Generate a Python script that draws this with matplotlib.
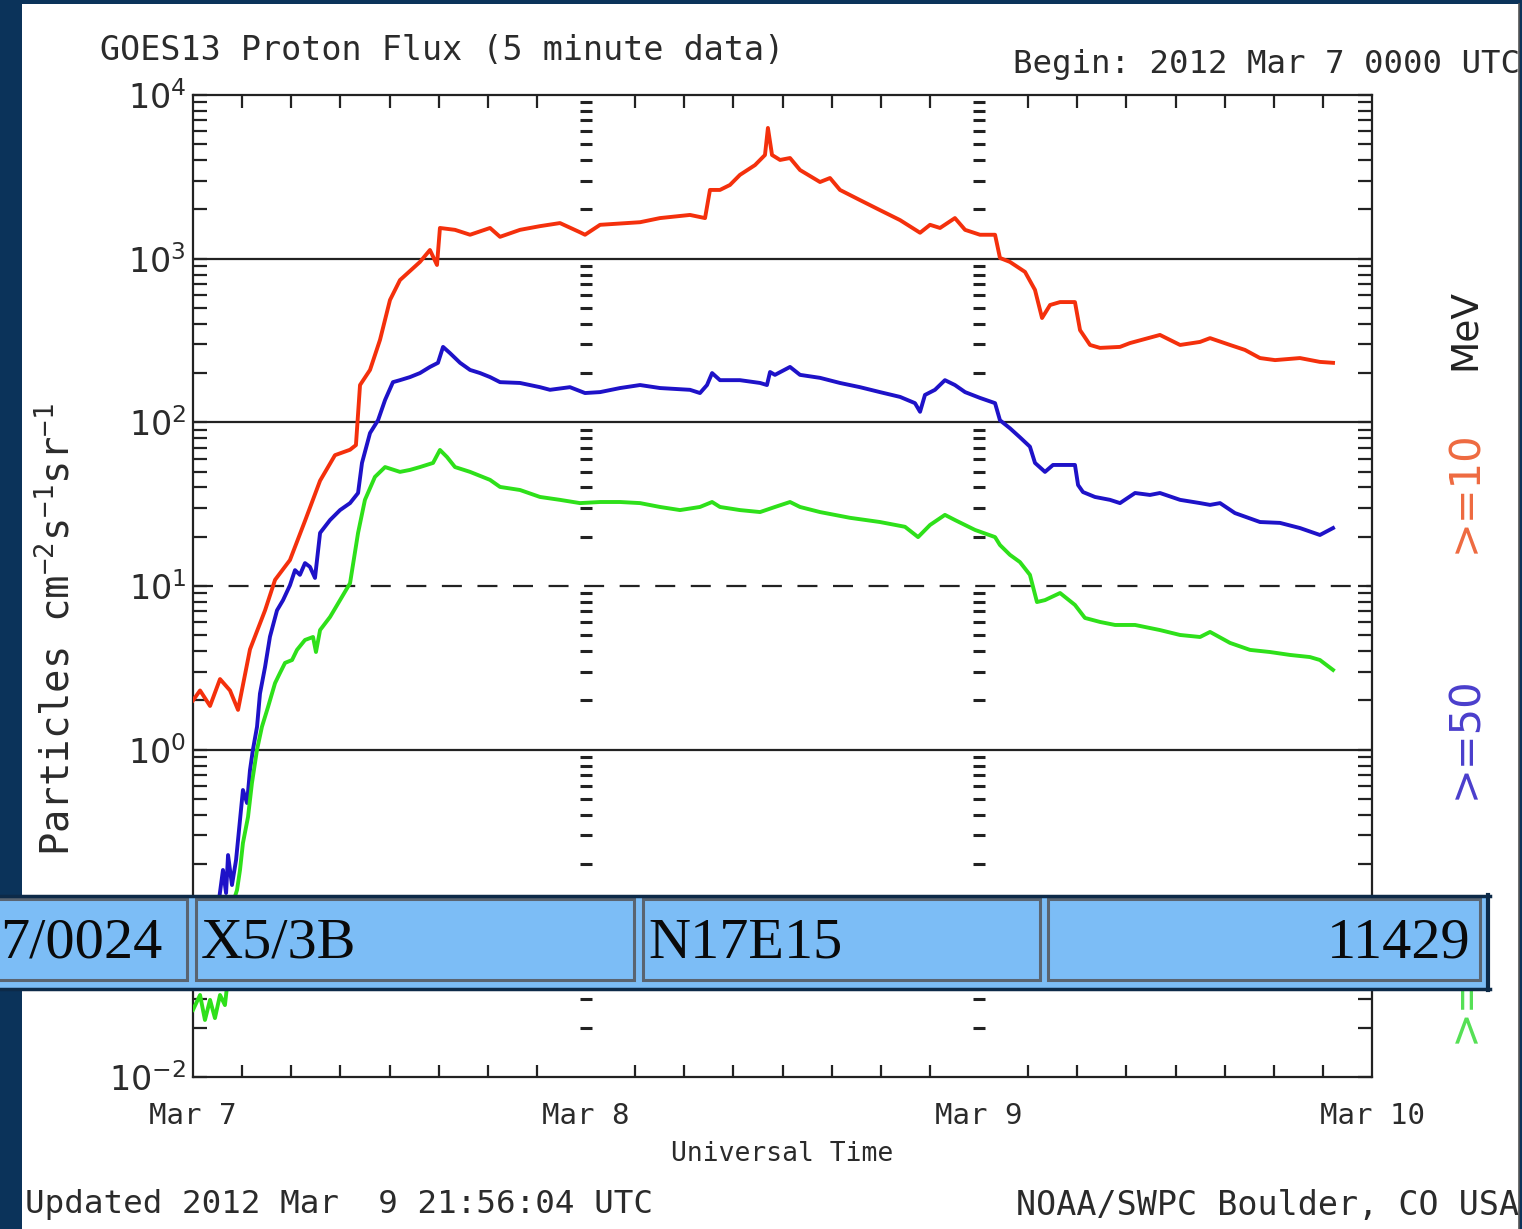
import numpy as np
import matplotlib
matplotlib.use("Agg")
import matplotlib.pyplot as plt
from matplotlib.patches import Rectangle
from matplotlib.ticker import FixedLocator, LogLocator, NullFormatter

# ---------------- data (hours since 2012 Mar 7 00:00 UTC, flux) ----------------
red_hours = [0.0, 0.43, 1.04, 1.65, 2.26, 2.75, 3.48, 4.40, 5.01, 5.92, 6.84, 7.76,
             8.67, 9.59, 9.95, 10.20, 10.81, 11.42, 12.03, 12.64, 13.86, 14.47, 14.90,
             15.08, 16.00, 16.92, 18.14, 18.75, 19.97, 21.19, 22.41, 23.63, 23.94,
             24.86, 27.30, 28.52, 30.35, 31.27, 31.57, 32.18, 32.79, 33.40, 34.32,
             34.93, 35.11, 35.36, 35.85, 36.46, 37.07, 38.29, 38.90, 39.51, 40.73,
             41.95, 43.18, 44.40, 45.01, 45.62, 46.53, 47.15, 48.06, 48.98, 49.28,
             49.89, 50.81, 51.42, 51.85, 52.34, 52.95, 53.86, 54.17, 54.78, 55.39,
             56.61, 57.22, 59.05, 60.28, 61.50, 62.11, 63.33, 64.24, 65.16, 66.08,
             67.60, 68.82, 69.62]
red_flux = [2.0, 2.3, 1.85, 2.7, 2.3, 1.75, 4.1, 7.1, 10.9, 14.4, 25, 44,
            63, 68, 72.6, 169, 209, 319, 559, 740, 955, 1130, 915,
            1540, 1500, 1400, 1540, 1360, 1500, 1580, 1650, 1450, 1400,
            1610, 1670, 1770, 1850, 1770, 2630, 2630, 2820, 3250, 3730,
            4300, 6290, 4300, 4010, 4120, 3480, 2940, 3110, 2630, 2280,
            1980, 1720, 1440, 1610, 1540, 1770, 1500, 1400, 1400, 1010,
            955, 830, 644, 434, 521, 543, 543, 366, 297, 285,
            289, 305, 342, 297, 310, 327, 297, 277, 247, 240,
            247, 234, 231]

blue_hours = [0.12, 1.34, 1.83, 2.02, 2.14, 2.38, 2.63, 2.87, 3.05, 3.30, 3.48, 3.66,
              3.91, 4.09, 4.40, 4.70, 5.13, 5.50, 5.92, 6.23, 6.53, 6.84, 7.14, 7.45,
              7.76, 8.37, 8.98, 9.59, 10.08, 10.32, 10.81, 11.30, 11.73, 12.21, 12.64,
              13.25, 13.86, 14.47, 14.96, 15.27, 15.69, 16.31, 16.92, 17.53, 18.14,
              18.75, 19.97, 21.19, 21.80, 23.02, 23.94, 24.86, 26.08, 27.30, 28.52,
              30.35, 30.96, 31.39, 31.70, 32.18, 33.40, 34.63, 35.05, 35.24, 35.54,
              36.46, 37.07, 38.29, 39.51, 40.73, 41.95, 43.18, 44.09, 44.40, 44.70,
              45.31, 45.92, 46.53, 47.15, 48.06, 48.98, 49.28, 49.89, 50.50, 51.11,
              51.42, 52.03, 52.52, 53.86, 54.05, 54.35, 55.08, 56.00, 56.61, 57.53,
              58.44, 59.05, 60.28, 61.50, 62.11, 62.72, 63.63, 65.16, 66.38, 67.60,
              68.82, 69.62]
blue_flux = [0.069, 0.079, 0.184, 0.133, 0.227, 0.149, 0.212, 0.372, 0.567, 0.472, 0.75, 1.0,
             1.38, 2.2, 3.2, 4.9, 7.1, 8.2, 10.1, 12.5, 11.7, 13.8, 13.1, 11.2,
             21.1, 25.3, 29.1, 32.1, 37.0, 56.5, 86, 103, 137, 176, 181,
             189, 200, 218, 231, 289, 265, 231, 209, 200, 189,
             176, 174, 164, 158, 164, 151, 153, 162, 169, 162,
             158, 151, 169, 200, 181, 181, 174, 169, 203, 195,
             218, 195, 187, 174, 164, 153, 143, 131, 116, 147,
             158, 181, 169, 153, 141, 131, 103, 92, 81, 71,
             56.5, 49.8, 54.9, 54.9, 41.4, 37.5, 35.0, 33.6, 32.1, 37.0,
             36.0, 37.0, 33.6, 32.1, 31.3, 32.1, 27.9, 24.6, 24.3, 22.6,
             20.5, 22.6]

green_hours = [0.0, 0.43, 0.73, 1.04, 1.34, 1.65, 1.95, 2.26, 2.50, 2.69, 2.87, 3.05,
               3.36, 3.60, 3.91, 4.21, 4.58, 5.01, 5.31, 5.62, 6.05, 6.35, 6.84, 7.33,
               7.51, 7.76, 8.37, 8.98, 9.59, 10.08, 10.50, 11.11, 11.73, 12.64, 13.25,
               13.86, 14.66, 15.08, 15.51, 16.00, 16.92, 18.14, 18.75, 19.97, 21.19,
               22.41, 23.63, 24.86, 26.08, 27.30, 28.52, 29.74, 30.96, 31.70, 32.18,
               33.40, 34.63, 35.54, 36.46, 37.07, 38.29, 40.12, 41.95, 43.48, 44.28,
               45.01, 45.92, 46.53, 47.76, 48.98, 49.28, 49.89, 50.50, 51.11, 51.54,
               52.03, 52.95, 53.86, 54.47, 55.39, 56.31, 57.53, 59.05, 60.28, 61.50,
               62.11, 63.33, 64.55, 65.77, 67.00, 68.21, 68.82, 69.62]
green_flux = [0.0257, 0.0317, 0.0223, 0.0296, 0.0229, 0.0317, 0.0275, 0.0519, 0.121, 0.139, 0.184, 0.269,
              0.388, 0.626, 1.0, 1.38, 1.82, 2.55, 2.94, 3.39, 3.53, 4.07, 4.68, 4.88,
              3.95, 5.38, 6.47, 8.2, 10.4, 21.1, 33.6, 46.4, 53.3, 49.8, 51.2,
              53.3, 56.5, 67.8, 61.4, 53.3, 49.8, 44.5, 40.3, 38.6, 35.0,
              33.6, 32.1, 32.6, 32.6, 32.1, 30.4, 29.1, 30.4, 32.6, 30.4,
              29.1, 28.3, 30.4, 32.6, 30.4, 28.3, 26.1, 24.6, 23.0, 19.9,
              23.6, 27.2, 25.3, 22.0, 19.9, 17.8, 15.5, 14.0, 11.7, 7.98,
              8.2, 9.06, 7.66, 6.38, 6.03, 5.78, 5.78, 5.38, 5.02, 4.88,
              5.24, 4.49, 4.07, 3.95, 3.79, 3.68, 3.53, 3.07]

day_ticks = [0, 24, 48, 72]
day_labels = ["Mar 7", "Mar 8", "Mar 9", "Mar 10"]
decades = [1e-2, 1e-1, 1e0, 1e1, 1e2, 1e3, 1e4]
decade_labels = [r"$10^{-2}$", "", r"$10^{0}$", r"$10^{1}$",
                 r"$10^{2}$", r"$10^{3}$", r"$10^{4}$"]
solid_levels = [1e0, 1e2, 1e3]
dashed_levels = [1e1]
energy_labels = [">=10", ">=50", ">=100"]
flare_cells = ["7/0024", "X5/3B", "N17E15", "11429"]

title_text = "GOES13 Proton Flux (5 minute data)"
begin_text = "Begin: 2012 Mar 7 0000 UTC"
updated_text = "Updated 2012 Mar  9 21:56:04 UTC"
credit_text = "NOAA/SWPC Boulder, CO USA"

# ---------------- styling ----------------
W, H = 1522, 1229
NAVY = "#0b335a"
TXT = "#2b2b2b"
RED, BLUE, GREEN = "#f4300c", "#1e12c8", "#2ee01a"
MONO = ["DejaVu Sans Mono", "DejaVu Sans"]
SANS = ["DejaVu Sans"]
plt.rcParams["font.family"] = MONO
plt.rcParams["mathtext.default"] = "regular"

fig = plt.figure(figsize=(W / 100, H / 100), dpi=100)
fig.patch.set_facecolor(NAVY)

def fx(px):
    return px / W

def fy(py):
    return 1 - py / H

# white panel
fig.add_artist(Rectangle((fx(22), 0), fx(1519) - fx(22), fy(4), transform=fig.transFigure,
                         facecolor="white", edgecolor="none", zorder=-10))
fig.add_artist(plt.Line2D([fx(1519), fx(1519)], [0, fy(4)], transform=fig.transFigure,
                          color="#555555", lw=1.2, zorder=-9))

L, R, T, B = 193, 1372, 95, 1077
ax = fig.add_axes([fx(L), fy(B), fx(R) - fx(L), (B - T) / H])
ax.set_facecolor("white")
ax.set_yscale("log")
ax.set_ylim(1e-2, 1e4)
ax.set_xlim(0, 72)

for s in ax.spines.values():
    s.set_linewidth(1.6)
    s.set_color("#222222")

ax.plot(red_hours, red_flux, color=RED, lw=2.8, zorder=3)
ax.plot(blue_hours, blue_flux, color=BLUE, lw=2.8, zorder=3)
ax.plot(green_hours, green_flux, color=GREEN, lw=2.8, zorder=3)

for lv in solid_levels:
    ax.axhline(lv, color="#222222", lw=1.6, zorder=2)
for lv in dashed_levels:
    ax.axhline(lv, color="#222222", lw=1.6, ls=(0, (9, 7)), zorder=2)

# y ticks
ax.yaxis.set_major_locator(FixedLocator(decades))
ax.set_yticklabels(decade_labels, family=SANS)
ax.yaxis.set_minor_locator(LogLocator(base=10, subs=np.arange(2, 10), numticks=20))
ax.yaxis.set_minor_formatter(NullFormatter())
ax.tick_params(axis="y", which="both", direction="in", left=True, right=True,
               length=10, width=1.6, colors="#222222", labelcolor=TXT, labelsize=24, pad=5)

# x ticks
ax.xaxis.set_major_locator(FixedLocator(day_ticks))
ax.set_xticklabels(day_labels)
ax.xaxis.set_minor_locator(FixedLocator(np.arange(0, 73, 3)))
ax.tick_params(axis="x", which="both", direction="in", top=True, bottom=True,
               length=9, width=1.6, colors="#222222", labelcolor=TXT, labelsize=21, pad=18)
ax.tick_params(axis="x", which="major", length=0)

# dash columns at day boundaries (copies of the log ticks)
minor_vals = [v for v in ax.yaxis.get_minorticklocs() if 1e-2 < v < 1e4]
for d in day_ticks[1:3]:
    ax.plot([d] * len(minor_vals), minor_vals, ls="none", marker="_", ms=9, mew=2.2,
            color="#222222", zorder=2, clip_on=False)

ax.set_xlabel("Universal Time", fontsize=19, color=TXT, labelpad=8)
ax.set_ylabel("Particles cm$^{-2}$s$^{-1}$sr$^{-1}$", fontsize=28, color=TXT)
ax.yaxis.set_label_coords((78 - L) / (R - L), (B - 630) / (B - T))

fig.text(fx(100), fy(50), title_text, fontsize=24, color=TXT, ha="left", va="center")
fig.text(fx(1013), fy(65), begin_text, fontsize=23.3, color=TXT, ha="left", va="center")
fig.text(fx(25), fy(1205), updated_text, fontsize=23.4, color=TXT, ha="left", va="center")
fig.text(fx(1519), fy(1205), credit_text, fontsize=24, color=TXT, ha="right", va="center")

fig.text(fx(1465), fy(330), "MeV", fontsize=27, family=SANS, color="#222222", rotation=90, ha="center", va="center")
fig.text(fx(1465), fy(492), energy_labels[0], fontsize=30, family=SANS, color="#ee6a40", rotation=90, ha="center", va="center")
fig.text(fx(1465), fy(738), energy_labels[1], fontsize=30, family=SANS, color="#4a3ecc", rotation=90, ha="center", va="center")
fig.text(fx(1465), fy(968), energy_labels[2], fontsize=30, family=SANS, color="#55e055", rotation=90, ha="center", va="center")

# overlay bar with flare information
ov = fig.add_axes([0, 0, 1, 1], zorder=20)
ov.set_xlim(0, W)
ov.set_ylim(H, 0)
ov.axis("off")
ov.patch.set_alpha(0)
BAR = "#7cbdf6"
ov.add_patch(Rectangle((-5, 895), 1495, 95, facecolor=BAR, edgecolor="none"))
ov.plot([-5, 1490], [896, 896], color="#0d2a48", lw=2.5)
ov.plot([-5, 1490], [989, 989], color="#0d2a48", lw=2.5)
ov.plot([1488, 1488], [895, 990], color="#0d2a48", lw=3)
cells = [(-5, 187), (196, 634), (643, 1040), (1048, 1480)]
for (x0, x1) in cells:
    ov.add_patch(Rectangle((x0, 899), x1 - x0, 81, facecolor="none",
                           edgecolor="#5a6470", lw=2.2))
serif = ["Liberation Serif", "DejaVu Serif"]
ov.text(0, 957, flare_cells[0], family=serif, fontsize=42, color="#0a0a0a", ha="left", va="baseline")
ov.text(201, 957, flare_cells[1], family=serif, fontsize=42, color="#0a0a0a", ha="left", va="baseline")
ov.text(648, 957, flare_cells[2], family=serif, fontsize=42, color="#0a0a0a", ha="left", va="baseline")
ov.text(1471, 957, flare_cells[3], family=serif, fontsize=42, color="#0a0a0a", ha="right", va="baseline")

fig.savefig("out.png", dpi=100, facecolor=fig.get_facecolor())
